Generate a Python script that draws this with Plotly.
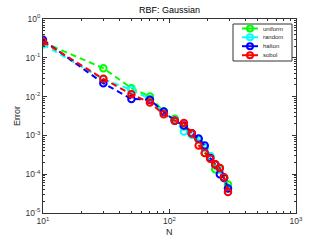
import plotly.graph_objects as go

N = [10, 30, 50, 70, 90, 110, 130, 150, 170, 190, 210, 230, 250, 270, 290]
uniform = [0.25, 0.054, 0.0165, 0.0100, 0.0041, 0.0027, 0.0017, 0.0011, 0.00078, 0.00035, 0.00029, 0.000135, 0.000144, 0.00008, 0.000054]
random_ = [0.22, 0.028, 0.015, 0.0086, 0.0037, 0.0025, 0.00126, 0.00104, 0.00078, 0.00047, 0.00029, 0.00018, 0.00013, 0.00008, 0.000044]
halton = [0.29, 0.022, 0.0087, 0.0083, 0.0041, 0.0024, 0.0018, 0.00114, 0.00083, 0.00055, 0.00026, 0.000178, 0.0001, 0.00008, 0.000043]
sobol = [0.26, 0.0287, 0.0115, 0.0070, 0.0035, 0.0024, 0.0021, 0.00114, 0.00055, 0.00035, 0.00025, 0.00018, 0.000144, 0.000083, 0.000035]

names = ["uniform", "random", "halton", "sobol"]
series = [uniform, random_, halton, sobol]
colors = ["#00ff00", "#00ffff", "#0000ff", "#ff0000"]

xticks = [10, 100, 1000]
xticktext = ["10<sup>1</sup>", "10<sup>2</sup>", "10<sup>3</sup>"]
yticks = [1e-5, 1e-4, 1e-3, 1e-2, 1e-1, 1]
yticktext = ["10<sup>-5</sup>", "10<sup>-4</sup>", "10<sup>-3</sup>", "10<sup>-2</sup>", "10<sup>-1</sup>", "10<sup>0</sup>"]

W, H = 327, 240
L, R, T, B = 43, 31, 19, 27
PX0, PX1 = L, W - R
PY0, PY1 = T, H - B

fig = go.Figure()
for name, ys, c in zip(names, series, colors):
    fig.add_trace(go.Scatter(
        x=N, y=ys, mode="lines+markers", name=name, showlegend=False,
        line=dict(color=c, width=2, dash="6px,4px"),
        marker=dict(symbol="circle-open", size=6.5, color=c, line=dict(width=2, color=c)),
    ))

# manual compact legend (pixel coordinates on an overlay axis)
box = dict(x0=233, x1=292, y0=24, y1=61)
entry_y = [28.5, 37.3, 46.2, 55.2]
fig.add_shape(type="rect", xref="x2", yref="y2", x0=box["x0"], x1=box["x1"],
              y0=box["y0"], y1=box["y1"], line=dict(color="#333333", width=1),
              fillcolor="white", layer="below")
for name, c, ey in zip(names, colors, entry_y):
    fig.add_trace(go.Scatter(
        x=[242, 250, 258], y=[ey, ey, ey], xaxis="x2", yaxis="y2",
        mode="lines", showlegend=False, hoverinfo="skip",
        line=dict(color=c, width=2),
    ))
    fig.add_trace(go.Scatter(
        x=[250], y=[ey], xaxis="x2", yaxis="y2",
        mode="markers", showlegend=False, hoverinfo="skip",
        marker=dict(symbol="circle-open", size=6, color=c, line=dict(width=2, color=c)),
    ))
    fig.add_annotation(x=261, y=ey, xref="x2", yref="y2", text=name, showarrow=False,
                       xanchor="left", yanchor="middle", font=dict(size=6, color="#262626"))

axis_style = dict(
    automargin=False, ticks="inside", ticklen=4, showline=True, linecolor="#333333",
    linewidth=1, mirror="allticks", showgrid=False, zeroline=False, tickcolor="#333333",
    tickfont=dict(size=8.5, color="#333333"),
    minor=dict(ticks="inside", ticklen=2, dtick="D1", showgrid=False, tickcolor="#333333"),
)

fig.update_layout(
    width=W, height=H,
    margin=dict(l=L, r=R, t=T, b=B, autoexpand=False),
    paper_bgcolor="white", plot_bgcolor="white",
    font=dict(family="Liberation Sans, Arial, sans-serif", size=8, color="#262626"),
    title=dict(text="RBF: Gaussian", x=0.5, xanchor="center", xref="paper",
               y=1 - 10 / H, yanchor="middle", font=dict(size=9, color="black")),
    showlegend=False,
    xaxis=dict(type="log", range=[1, 3], tickvals=xticks, ticktext=xticktext, **axis_style),
    yaxis=dict(type="log", range=[-5, 0], tickvals=yticks, ticktext=yticktext, **axis_style),
    xaxis2=dict(overlaying="x", range=[PX0, PX1], visible=False, fixedrange=True),
    yaxis2=dict(overlaying="y", range=[PY1, PY0], visible=False, fixedrange=True),
)
fig.add_annotation(text="N", xref="paper", yref="paper", x=0.5, y=-(232 - PY1) / (PY1 - PY0),
                   showarrow=False, xanchor="center", yanchor="middle", font=dict(size=9, color="#262626"))
fig.add_annotation(text="Error", xref="paper", yref="paper", x=-(PX0 - 17) / (PX1 - PX0), y=0.5,
                   showarrow=False, xanchor="center", yanchor="middle", textangle=-90,
                   font=dict(size=9, color="#262626"))

fig.write_html("out.html", config={"staticPlot": True},
               post_script="document.body.style.margin='0';document.body.style.overflow='hidden';")
